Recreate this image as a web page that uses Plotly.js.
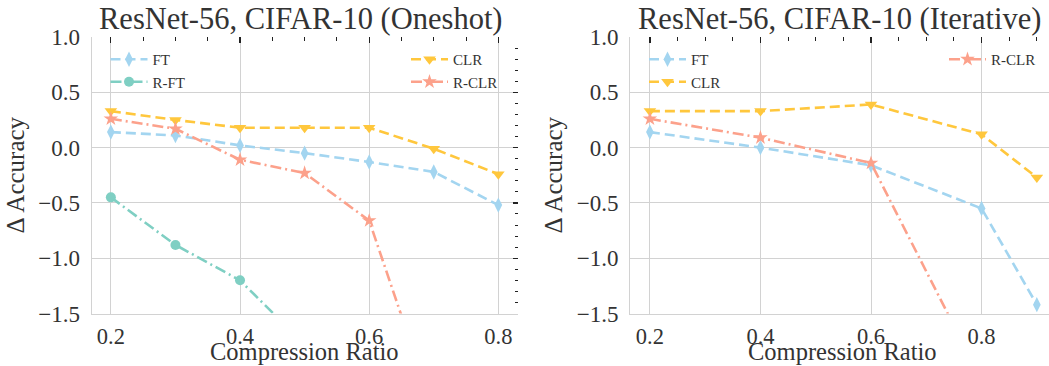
<!DOCTYPE html>
<html>
<head>
<meta charset="utf-8">
<script src="https://cdn.plot.ly/plotly-3.0.1.min.js"></script>
<style>html,body{margin:0;padding:0;background:#fff;overflow:hidden;}#chart{width:1049px;height:366px;}</style>
</head>
<body>
<div id="chart"></div>
<script>
// ---- data (Oneshot) ----
const xOneshot = [0.2, 0.3, 0.4, 0.5, 0.6, 0.7, 0.8];
const ftOneshot = [0.14, 0.11, 0.02, -0.05, -0.13, -0.22, -0.52];
const clrOneshot = [0.33, 0.25, 0.18, 0.18, 0.18, -0.01, -0.24];
const xRclrOneshot = [0.2, 0.3, 0.4, 0.5, 0.6, 0.7];
const rclrOneshot = [0.26, 0.17, -0.11, -0.23, -0.66, -2.38];
const xRftOneshot = [0.2, 0.3, 0.4, 0.5];
const rftOneshot = [-0.45, -0.88, -1.20, -1.78];
// ---- data (Iterative) ----
const xIterative = [0.2, 0.4, 0.6, 0.8, 0.9];
const ftIterative = [0.14, 0.00, -0.16, -0.55, -1.42];
const clrIterative = [0.33, 0.33, 0.39, 0.12, -0.27];
const xRclrIterative = [0.2, 0.4, 0.6, 0.8];
const rclrIterative = [0.26, 0.09, -0.14, -2.10];
// ---- labels ----
const titleOneshot = 'ResNet-56, CIFAR-10 (Oneshot)';
const titleIterative = 'ResNet-56, CIFAR-10 (Iterative)';
const xLabel = 'Compression Ratio';
const yLabel = 'Δ Accuracy';

const FONT = 'Liberation Serif, Times New Roman, serif';
const TXT = '#333333';
const C_FT = '#a3d5f0', C_RFT = '#7fcfc3', C_CLR = '#ffc73d', C_RCLR = '#fca18b';
const DASH = '10px,5px';
const DASHDOT = '11px,4px,2px,4px';

function tr(x, y, name, color, dash, symbol, xa, ya, legend, msize) {
  return {x: x, y: y, name: name, type: 'scatter', mode: 'lines+markers',
    xaxis: xa, yaxis: ya, legend: legend,
    line: {color: color, width: 2.6, dash: dash},
    marker: {color: color, symbol: symbol, size: msize || 10, line: {width: 0}},
    hoverinfo: 'skip'};
}

const traces = [
  tr(xOneshot, ftOneshot, 'FT', C_FT, DASH, 'diamond-tall', 'x', 'y', 'legend', 11),
  tr(xRftOneshot, rftOneshot, 'R-FT', C_RFT, DASHDOT, 'circle', 'x', 'y', 'legend', 10),
  tr(xOneshot, clrOneshot, 'CLR', C_CLR, DASH, 'triangle-down', 'x', 'y', 'legend2', 11),
  tr(xRclrOneshot, rclrOneshot, 'R-CLR', C_RCLR, DASHDOT, 'star', 'x', 'y', 'legend2', 11),
  tr(xIterative, ftIterative, 'FT', C_FT, DASH, 'diamond-tall', 'x2', 'y2', 'legend3', 11),
  tr(xIterative, clrIterative, 'CLR', C_CLR, DASH, 'triangle-down', 'x2', 'y2', 'legend3', 11),
  tr(xRclrIterative, rclrIterative, 'R-CLR', C_RCLR, DASHDOT, 'star', 'x2', 'y2', 'legend4', 11),
  // empty helpers so the mirror-tick axes are drawn
  {x: [], y: [], xaxis: 'x3', yaxis: 'y', showlegend: false, hoverinfo: 'skip', type: 'scatter'},
  {x: [], y: [], xaxis: 'x', yaxis: 'y3', showlegend: false, hoverinfo: 'skip', type: 'scatter'},
  {x: [], y: [], xaxis: 'x4', yaxis: 'y2', showlegend: false, hoverinfo: 'skip', type: 'scatter'}
];

const W = 1049, H = 366;
const yDom = [1 - 313.5 / H, 1 - 37 / H];
const dom1 = [91.5 / W, 517.7 / W];
const dom2 = [630 / W, 1];
const r1 = [0.17, 0.83];
const r2 = [0.164, 0.922];
const yr = [-1.5, 1.0];

function mainX(dom, range, anchor) {
  return {domain: dom, range: range, anchor: anchor, tick0: 0, dtick: 0.2, tickformat: '.1f',
    showgrid: true, gridcolor: '#d2d2d2', gridwidth: 1, zeroline: false,
    showline: true, linecolor: '#d2d2d2', linewidth: 1, ticks: '',
    tickfont: {family: FONT, size: 22.5, color: TXT}, ticklabelstandoff: 2};
}
function mainY(anchor) {
  return {domain: yDom, range: yr, anchor: anchor, tick0: 0, dtick: 0.5, tickformat: '.1f',
    showgrid: true, gridcolor: '#d2d2d2', gridwidth: 1, zeroline: false,
    showline: true, linecolor: '#d2d2d2', linewidth: 1, ticks: '',
    tickfont: {family: FONT, size: 23, color: TXT}, ticklabelstandoff: 6,
    title: {text: yLabel, font: {family: FONT, size: 25, color: TXT}, standoff: 6}};
}
function topX(over, anchor, range) {
  return {overlaying: over, anchor: anchor, side: 'top', range: range, tick0: 0, dtick: 0.2,
    ticks: 'inside', ticklen: 6, tickwidth: 1.2, tickcolor: '#222', showticklabels: false,
    showgrid: false, zeroline: false, showline: false,
    minor: {dtick: 0.05, tick0: 0, ticks: 'inside', ticklen: 3.5, tickwidth: 1, tickcolor: '#222', showgrid: false}};
}

const legBase = {bgcolor: 'rgba(0,0,0,0)', borderwidth: 0, font: {family: FONT, size: 15, color: TXT},
  xanchor: 'left', yanchor: 'top', tracegroupgap: 0, itemwidth: 37};

function label(text, xPx, yPx, size, yanchor) {
  return {text: text, xref: 'paper', yref: 'paper', x: xPx / W, y: 1 - yPx / H,
    xanchor: 'center', yanchor: yanchor, showarrow: false, font: {family: FONT, size: size, color: TXT}};
}

const layout = {
  width: W, height: H, margin: {l: 0, r: 0, t: 0, b: 0},
  paper_bgcolor: '#fff', plot_bgcolor: '#fff', showlegend: true,
  xaxis: mainX(dom1, r1, 'y'),
  yaxis: mainY('x'),
  xaxis2: mainX(dom2, r2, 'y2'),
  yaxis2: mainY('x2'),
  xaxis3: topX('x', 'y', r1),
  xaxis4: topX('x2', 'y2', r2),
  yaxis3: {overlaying: 'y', anchor: 'x', side: 'right', range: yr, tick0: 0, dtick: 0.5,
    ticks: 'inside', ticklen: 5, tickwidth: 1.2, tickcolor: '#222', showticklabels: false,
    showgrid: false, zeroline: false, showline: false,
    minor: {dtick: 0.1, tick0: 0, ticks: 'inside', ticklen: 3, tickwidth: 1, tickcolor: '#222', showgrid: false}},
  legend: Object.assign({}, legBase, {x: 105.5 / W, y: 1 - 43 / H}),
  legend2: Object.assign({}, legBase, {x: 406 / W, y: 1 - 43 / H}),
  legend3: Object.assign({}, legBase, {x: 644 / W, y: 1 - 43 / H}),
  legend4: Object.assign({}, legBase, {x: 944 / W, y: 1 - 43 / H}),
  annotations: [
    label(titleOneshot, 300.6, 38, 30.5, 'bottom'),
    label(titleIterative, 839, 38, 30.5, 'bottom'),
    label(xLabel, 304.6, 367, 24.5, 'bottom'),
    label(xLabel, 842.5, 367, 24.5, 'bottom')
  ]
};

Plotly.newPlot('chart', traces, layout, {staticPlot: true, displayModeBar: false});
</script>
</body>
</html>
